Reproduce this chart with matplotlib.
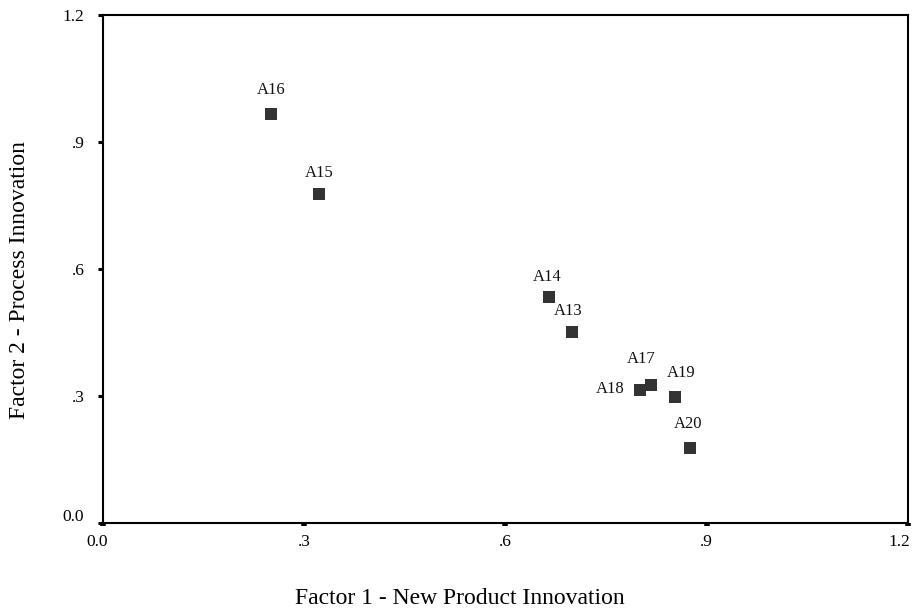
import matplotlib
matplotlib.use("Agg")
import matplotlib.pyplot as plt
import matplotlib.transforms as mtransforms
import numpy as np

# item loadings
items = ["A13", "A14", "A15", "A16", "A17", "A18", "A19", "A20"]
factor1 = [0.699, 0.665, 0.322, 0.251, 0.817, 0.801, 0.853, 0.875]
factor2 = [0.452, 0.533, 0.778, 0.966, 0.326, 0.314, 0.298, 0.177]

tick_vals = [0.0, 0.3, 0.6, 0.9, 1.2]
tick_labels = ["0.0", ".3", ".6", ".9", "1.2"]

# label placement (offset in points, horizontal alignment)
label_pos = {
    "A13": (-3, 15, "center"),
    "A14": (-1, 15, "center"),
    "A15": (0, 15, "center"),
    "A16": (0, 17, "center"),
    "A17": (-7, 19, "center"),
    "A18": (-11, 1, "right"),
    "A19": (4, 17, "center"),
    "A20": (-1, 17, "center"),
}

plt.rcParams["font.family"] = ["Liberation Serif", "DejaVu Serif"]
plt.rcParams["font.size"] = 12

fig = plt.figure(figsize=(9.14, 6.09), dpi=100)
ax = fig.add_axes([0.1127, 0.1412, 0.8807, 0.8342])

ax.scatter(factor1, factor2, marker="s", s=78, color="#333333", linewidths=0, zorder=3)

for name, x, y in zip(items, factor1, factor2):
    dx, dy, ha = label_pos[name]
    ax.annotate(name, (x, y), xytext=(dx, dy), textcoords="offset points",
                ha=ha, va="center", fontsize=12, color="#111111")

ax.set_xlim(0, 1.2)
ax.set_ylim(0, 1.2)
ax.set_xticks(tick_vals)
ax.set_xticklabels(tick_labels)
ax.set_yticks(tick_vals)
ax.set_yticklabels(tick_labels)

for sp in ax.spines.values():
    sp.set_linewidth(1.5)
    sp.set_color("black")

ax.tick_params(axis="x", direction="out", length=2.2, width=4, pad=6, labelsize=12.5)
ax.tick_params(axis="y", direction="out", length=3.5, width=2.2, pad=10, labelsize=12.5)

# small nudges of end labels, as in the reference
def nudge(lbl, dx, dy):
    lbl.set_transform(lbl.get_transform() +
                      mtransforms.ScaledTranslation(dx / 72, dy / 72, fig.dpi_scale_trans))

xl = ax.get_xticklabels()
nudge(xl[0], -4, 0)
nudge(xl[-1], -6, 0)
yl = ax.get_yticklabels()
nudge(yl[0], 0, 6)

ax.set_xlabel("Factor 1 - New Product Innovation", fontsize=17, va="center")
ax.set_ylabel("Factor 2 - Process Innovation", fontsize=17, va="center")
ax.xaxis.set_label_coords(460 / 914, 1 - 598 / 609, transform=fig.transFigure)
ax.yaxis.set_label_coords(20 / 914, 1 - 280 / 609, transform=fig.transFigure)

fig.savefig("out.png", dpi=100)
